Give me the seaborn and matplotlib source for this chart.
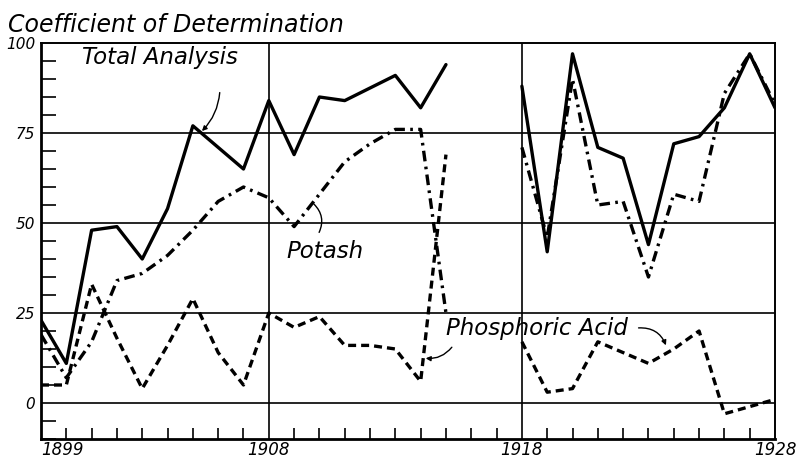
import numpy as np
import pandas as pd
import matplotlib
matplotlib.use("Agg")
import matplotlib.pyplot as plt
import seaborn as sns
from matplotlib.ticker import MultipleLocator

# ---- data ----
years_early = list(range(1899, 1916))
years_late = list(range(1918, 1929))

total_early = [23, 11, 48, 49, 40, 54, 77, 71, 65, 84, 69, 85, 84, 87.5, 91, 82, 94]
total_late = [88, 42, 97, 71, 68, 44, 72, 74, 82, 97, 82]

potash_early = [19, 7, 17, 34, 36, 41, 48, 56, 60, 57, 49, 58, 67, 72, 76, 76, 25]
potash_late = [71, 46, 90, 55, 56, 35, 58, 56, 86, 97, 83]

phos_early = [5, 5, 33, 18, 4, 16, 29, 14, 5, 25, 21, 24, 16, 16, 15, 6, 69]
phos_late = [17, 3, 4, 17, 14, 11, 15, 20, -3, -1, 1]

series_names = ["Total Analysis", "Potash", "Phosphoric Acid"]
x_tick_labels = ["1899", "1908", "1918", "1928"]
x_tick_years = [1899, 1908, 1918, 1928]
y_tick_values = [0, 25, 50, 75, 100]
y_tick_labels = ["0", "25", "50", "75", "100"]

rows = []
for name, early, late in zip(series_names,
                             [total_early, potash_early, phos_early],
                             [total_late, potash_late, phos_late]):
    for yr, v in zip(years_early, early):
        rows.append((name, "early", yr, v))
    for yr, v in zip(years_late, late):
        rows.append((name, "late", yr, v))
df = pd.DataFrame(rows, columns=["series", "segment", "year", "value"])

sns.set_theme(style="white")
plt.rcParams["font.family"] = ["DejaVu Sans"]

W, H = 799, 461
fig = plt.figure(figsize=(W / 100, H / 100), dpi=100)
fig.patch.set_facecolor("white")
ax = fig.add_axes([41 / W, 22 / H, 734 / W, 396 / H])
ax.set_facecolor("white")

sns.lineplot(
    data=df, x="year", y="value", style="series", units="segment",
    estimator=None, color="black", linewidth=2.4, legend=False, ax=ax,
    style_order=series_names,
    dashes={"Total Analysis": "", "Potash": (3.2, 1.6, 0.8, 1.6),
            "Phosphoric Acid": (2.4, 1.5)},
)

ax.set_xlim(1899, 1928)
ax.set_ylim(-10, 100)

for v in [0, 25, 50, 75]:
    ax.axhline(v, color="black", lw=1.2, zorder=1)
for v in [1908, 1918]:
    ax.axvline(v, color="black", lw=1.2, zorder=1)

for s in ax.spines.values():
    s.set_visible(True)
    s.set_color("black")
    s.set_linewidth(1.4)
ax.spines["bottom"].set_linewidth(2)
ax.spines["left"].set_linewidth(2)

ax.set_xticks(x_tick_years)
ax.set_xticklabels(x_tick_labels)
ax.set_yticks(y_tick_values)
ax.set_yticklabels(y_tick_labels)
ax.xaxis.set_minor_locator(MultipleLocator(1))
ax.yaxis.set_minor_locator(MultipleLocator(5))
ax.tick_params(axis="both", which="major", length=0, labelsize=11, colors="black")
ax.tick_params(axis="x", which="major", pad=1.5, labelsize=12)
ax.tick_params(axis="y", which="major", pad=4)
ax.tick_params(axis="x", which="minor", direction="in", length=8, width=1.2,
               bottom=True, top=False, color="black")
ax.tick_params(axis="y", which="minor", direction="in", length=11, width=1.2,
               left=True, right=False, color="black")
for lab in ax.get_xticklabels() + ax.get_yticklabels():
    lab.set_fontstyle("italic")
ax.get_xticklabels()[0].set_horizontalalignment("left")
ax.get_xticklabels()[-1].set_horizontalalignment("center")
ax.set_xlabel("")
ax.set_ylabel("")
ax.grid(False)

# ---- annotations ----
tkw = dict(fontsize=16.5, fontstyle="italic", color="black", ha="center", va="center")
ax.text(1903.7, 96, "Total Analysis", **tkw)
ax.annotate("", xy=(1905.28, 75), xytext=(1906.07, 87),
            arrowprops=dict(arrowstyle="-|>", mutation_scale=7, lw=1,
                            color="black", connectionstyle="arc3,rad=-0.2"))
ax.text(1910.2, 42.2, "Potash", **tkw)
ax.annotate("", xy=(1909.7, 55.8), xytext=(1909.94, 46.7),
            arrowprops=dict(arrowstyle="-", lw=1, color="black",
                            connectionstyle="arc3,rad=0.4"))
ax.text(1918.6, 20.6, "Phosphoric Acid", **tkw)
ax.annotate("", xy=(1914.09, 12.5), xytext=(1915.3, 16.1),
            arrowprops=dict(arrowstyle="-|>", mutation_scale=7, lw=1,
                            color="black", connectionstyle="arc3,rad=-0.3"))
ax.annotate("", xy=(1923.73, 15.3), xytext=(1922.5, 20.8),
            arrowprops=dict(arrowstyle="-|>", mutation_scale=7, lw=1,
                            color="black", connectionstyle="arc3,rad=-0.4"))

fig.text(8 / W, 1 - 32 / H, "Coefficient of Determination", fontsize=17,
         fontstyle="italic", color="black", ha="left", va="baseline")

fig.savefig("out.png", dpi=100, facecolor="white")
